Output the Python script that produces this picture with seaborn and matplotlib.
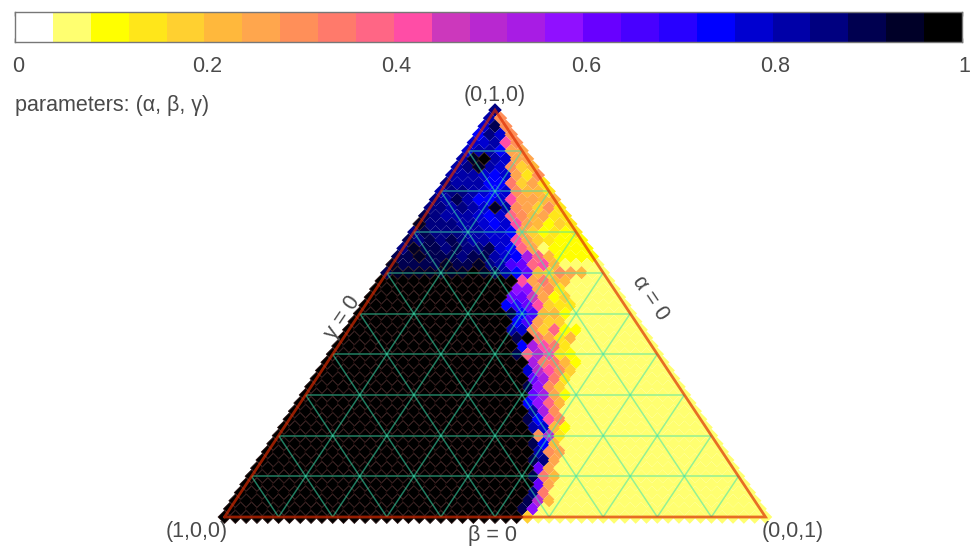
import pandas as pd
import matplotlib
matplotlib.use("Agg")
import matplotlib.pyplot as plt
from matplotlib.colors import ListedColormap
import seaborn as sns

# Colour bins of the bar, 0 to 1 in 25 steps
bin_colors = ['#FFFFFF', '#FFFF70', '#FFFF00', '#FFE61A', '#FFD030', '#FFB83C', '#FFA64D',
              '#FF8F59', '#FF7A6B', '#FF6685', '#FF4DA6', '#CC38BC', '#B828D0', '#A81CE4',
              '#9010FF', '#6800FF', '#4800FF', '#2800FF', '#0000FF', '#0000D0', '#0000A8',
              '#000080', '#000050', '#000028', '#000000']
bar_ticks = [0, 0.2, 0.4, 0.6, 0.8, 1]
bar_labels = ['0', '0.2', '0.4', '0.6', '0.8', '1']
grid_steps = [0.1, 0.2, 0.3, 0.4, 0.5, 0.6, 0.7, 0.8, 0.9]
n_steps = 50

# Dark cells at the left of the rows 0-20, counted from the apex
upper_cells = [
    [21], [20], [19, 22], [18, 21, 19], [19, 19, 20], [19, 20, 20, 18],
    [20, 23, 24, 20, 19], [20, 21, 23, 20, 19], [20, 20, 20, 19, 18, 19],
    [21, 20, 20, 20, 18, 18], [20, 21, 21, 20, 19, 18, 19],
    [21, 20, 22, 20, 18, 18, 19], [21, 21, 20, 21, 20, 19, 23, 20],
    [22, 21, 20, 20, 20, 19, 18, 19], [23, 21, 21, 21, 20, 20, 19, 18, 19],
    [21, 22, 21, 21, 21, 20, 20, 19, 19, 18],
    [22, 21, 22, 21, 22, 21, 20, 20, 19, 19],
    [21, 23, 22, 22, 21, 22, 21, 21, 22, 19, 18],
    [22, 22, 23, 22, 22, 22, 21, 22, 22, 20, 19, 18],
    [23, 22, 22, 22, 22, 23, 22, 22, 23, 21, 20, 16],
    [22, 23, 23, 23, 23, 23, 23, 23, 24, 23, 22, 20, 18],
]
# Number of black cells in the rows 21-50
black_counts = [13, 13, 13, 13, 14, 15, 15, 16, 17, 17, 19, 19, 20, 20, 21,
                21, 22, 22, 23, 24, 24, 25, 25, 26, 26, 27, 27, 27, 27, 28]
# Transition cells just right of the dark part, rows 0-50
band_levels = [
    [], [7], [7], [7], [10, 7], [6, 6], [6, 6], [7, 4, 5], [6, 3, 7], [8, 4, 6, 3],
    [7, 5, 5, 3], [10, 6, 6, 5, 5], [7, 6, 4, 7, 3], [9, 7, 5, 6, 3, 3],
    [10, 6, 5, 2, 4, 3], [6, 4, 2, 3, 2, 3], [10, 6, 4, 3, 2, 2, 2],
    [9, 6, 1, 2], [13, 9, 5, 2], [15, 9, 10, 5], [15, 5, 4, 7, 6, 5],
    [10, 6, 8, 5, 5], [14, 14, 6, 7, 3], [15, 15, 11, 6, 2, 4],
    [18, 17, 15, 10, 4, 3, 3], [22, 18, 16, 5, 5, 2], [18, 16, 6, 4, 4],
    [20, 19, 7, 4, 9, 2, 2], [22, 24, 8, 6, 3, 5], [18, 13, 10, 8, 3],
    [22, 9, 12, 10, 3, 2], [13, 8, 8, 5, 2], [19, 12, 10, 7, 4], [15, 13, 8, 3],
    [22, 14, 7, 4], [15, 13, 6, 2], [18, 14, 9, 5], [20, 13, 7], [22, 18, 10, 7],
    [20, 19, 5, 2], [7, 12, 3], [22, 18, 5], [20, 7, 6], [22, 21, 6], [15, 6],
    [22, 8, 5], [15, 6], [21, 8], [22, 12, 5], [22, 14, 1], [4],
]
# Level of the flat part at the right of every row
base_levels = [2] * 19 + [1] * 32

rows = []
for r in range(n_steps + 1):
    left = upper_cells[r] if r <= 20 else [24] * black_counts[r - 21]
    levels = left + band_levels[r]
    levels = levels + [base_levels[r]] * (r + 1 - len(levels))
    beta = 1 - r / n_steps
    for i, level in enumerate(levels):
        gamma = i / n_steps
        rows.append({'x': gamma + beta / 2, 'y': beta, 'level': level})
df = pd.DataFrame(rows)

sns.set_theme(style='white')
plt.rcParams['font.family'] = ['Liberation Sans', 'DejaVu Sans']
W, H = 978, 547
text_color = '#4a4a4a'
font_size = 15.5
fig = plt.figure(figsize=(W / 100, H / 100), dpi=100)

# Colour bar
cax = fig.add_axes([15 / W, 1 - 42 / H, 947 / W, 30 / H])
sns.heatmap(pd.DataFrame([[(k + 0.5) / 25 for k in range(25)]]), ax=cax, cbar=False,
            cmap=ListedColormap(bin_colors), vmin=0, vmax=1,
            xticklabels=False, yticklabels=False)
for side in cax.spines.values():
    side.set_visible(True)
    side.set_color('#777777')
    side.set_linewidth(1)
cax.set_xticks([t * 25 for t in bar_ticks])
cax.tick_params(axis='x', direction='in', length=3, width=1, color='#333333',
                top=True, bottom=True, labelbottom=False)
for t, lab in zip(bar_ticks, bar_labels):
    cax.annotate(lab, xy=(t * 25, 1), xytext=(2, -10), textcoords='offset points',
                 ha='center', va='top', fontsize=font_size, color=text_color,
                 annotation_clip=False)

# Triangle
ax = fig.add_axes([224.5 / W, 1 - 517 / H, 541 / W, 407 / H])
palette = {k: c for k, c in enumerate(bin_colors)}
dark = df['level'] >= 23
sns.scatterplot(data=df[~dark], x='x', y='y', hue='level', palette=palette, marker='D',
                s=48, linewidth=0, legend=False, ax=ax, clip_on=False, zorder=2)
sns.scatterplot(data=df[dark], x='x', y='y', hue='level', palette=palette, marker='D',
                s=44, linewidth=0.5, edgecolor='#2b1212', legend=False, ax=ax,
                clip_on=False, zorder=2)

grid_kw = dict(color='#3ce4b0', alpha=0.55, lw=1.1, zorder=3, solid_capstyle='butt')
for s in grid_steps:
    ax.plot([s / 2, 1 - s / 2], [s, s], **grid_kw)
    ax.plot([s, (1 + s) / 2], [0, 1 - s], **grid_kw)
    ax.plot([s, s / 2], [0, s], **grid_kw)
ax.plot([0, 1, 0.5, 0], [0, 0, 1, 0], color='#dc2a00', alpha=0.68, lw=2.0, zorder=4,
        solid_joinstyle='miter', clip_on=False)
ax.set_xlim(0, 1)
ax.set_ylim(0, 1)
ax.axis('off')

# Labels, placed in pixels of the picture
def label(px, py, s, **kw):
    kw.setdefault('ha', 'center')
    fig.text(px / W, 1 - py / H, s, va='center', fontsize=font_size, color=text_color, **kw)

label(15, 105, 'parameters: (α, β, γ)', ha='left')
label(495, 95, '(0,1,0)')
label(197, 531, '(1,0,0)')
label(793, 531, '(0,0,1)')
label(493, 536, 'β = 0')
label(343, 317, 'γ = 0', rotation=56, rotation_mode='anchor')
label(650, 298, 'α = 0', rotation=-56, rotation_mode='anchor')

fig.savefig('out.png', dpi=100)
